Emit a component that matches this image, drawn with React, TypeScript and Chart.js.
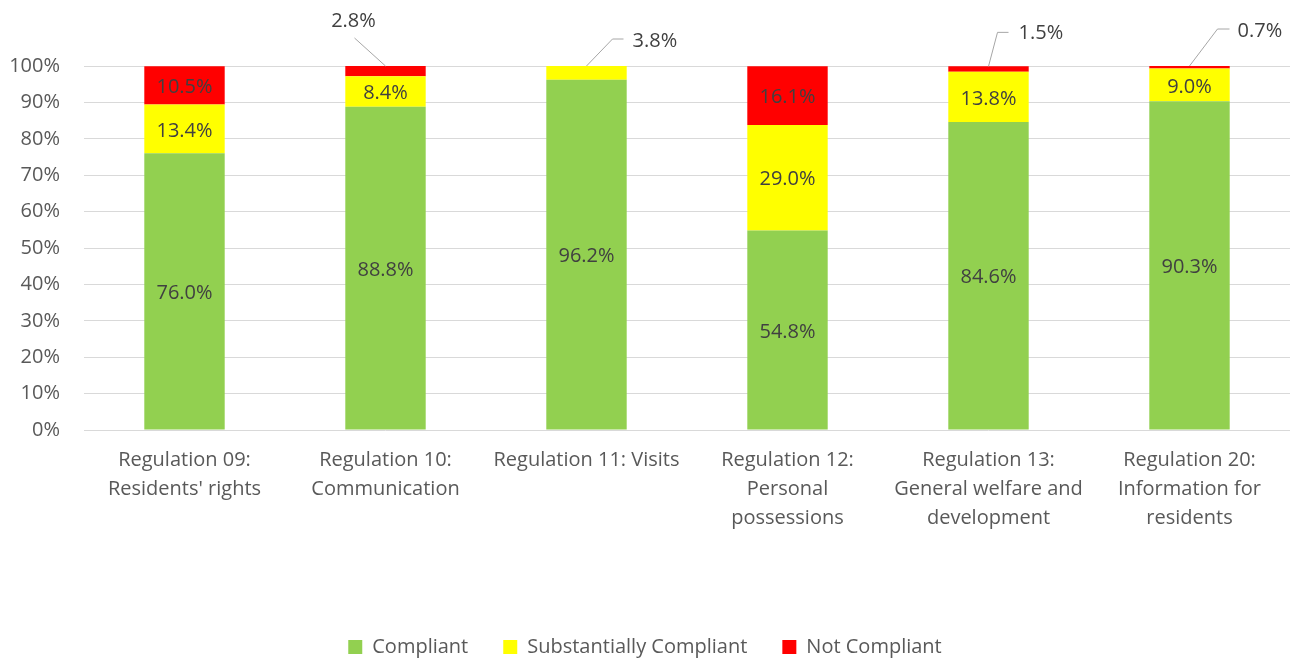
import React, { useEffect, useRef } from "react";
import { Chart, registerables } from "chart.js";

Chart.register(...registerables);

// ---- Data ----
const categories: string[][] = [
  ["Regulation 09:", "Residents' rights"],
  ["Regulation 10:", "Communication"],
  ["Regulation 11: Visits"],
  ["Regulation 12:", "Personal", "possessions"],
  ["Regulation 13:", "General welfare and", "development"],
  ["Regulation 20:", "Information for", "residents"],
];
const compliant = [76.0, 88.8, 96.2, 54.8, 84.6, 90.3];
const substantiallyCompliant = [13.4, 8.4, 3.8, 29.0, 13.8, 9.0];
const notCompliant = [10.5, 2.8, 0, 16.1, 1.5, 0.7];
const seriesNames = ["Compliant", "Substantially Compliant", "Not Compliant"];
const yMin = 0;
const yMax = 100;
const yStep = 10;

// ---- Style ----
const FONT = "'Open Sans'";
const COLORS = ["#92D050", "#FFFF00", "#FF0000"];
const AXIS_TEXT = "#595959";
const LABEL_TEXT = "#404040";

// callout leader-line placement for small segments (offsets from segment top centre)
type Callout = { elbow: [number, number]; end?: [number, number]; label: [number, number]; align: CanvasTextAlign };
const CALLOUTS: Record<string, Callout> = {
  "2-1": { elbow: [-31, -28], label: [-32, -45], align: "center" },
  "1-2": { elbow: [26, -27], end: [37, -27], label: [46, -25], align: "left" },
  "2-4": { elbow: [9, -34], end: [20, -34], label: [30, -33], align: "left" },
  "2-5": { elbow: [28, -37], end: [40, -37], label: [48, -35], align: "left" },
};

const valueLabels = {
  id: "valueLabels",
  afterDatasetsDraw(chart: any) {
    const ctx = chart.ctx as CanvasRenderingContext2D;
    ctx.save();
    ctx.font = `20px ${FONT}`;
    ctx.fillStyle = LABEL_TEXT;
    ctx.textBaseline = "middle";
    chart.data.datasets.forEach((ds: any, di: number) => {
      const meta = chart.getDatasetMeta(di);
      meta.data.forEach((bar: any, i: number) => {
        const v = ds.data[i];
        if (!v) return;
        const text = v.toFixed(1) + "%";
        const co = CALLOUTS[`${di}-${i}`];
        if (!co) {
          ctx.textAlign = "center";
          ctx.fillText(text, bar.x, (bar.y + bar.base) / 2 + 2);
          return;
        }
        const x0 = bar.x;
        const y0 = bar.y;
        ctx.strokeStyle = "#A6A6A6";
        ctx.lineWidth = 1;
        ctx.beginPath();
        ctx.moveTo(x0, y0);
        ctx.lineTo(x0 + co.elbow[0], y0 + co.elbow[1]);
        if (co.end) ctx.lineTo(x0 + co.end[0], y0 + co.end[1]);
        ctx.stroke();
        ctx.textAlign = co.align;
        ctx.fillText(text, x0 + co.label[0], y0 + co.label[1]);
      });
    });
    ctx.restore();
  },
};

export default function App() {
  const ref = useRef<HTMLCanvasElement | null>(null);

  useEffect(() => {
    if (!ref.current) return;
    const series = [compliant, substantiallyCompliant, notCompliant];
    const chart = new Chart(ref.current, {
      type: "bar",
      data: {
        labels: categories,
        datasets: series.map((d, i) => ({
          label: seriesNames[i],
          data: d,
          backgroundColor: COLORS[i],
          borderWidth: 0,
          barPercentage: 0.4,
          categoryPercentage: 1,
        })),
      },
      options: {
        animation: false,
        responsive: true,
        maintainAspectRatio: false,
        layout: { padding: { left: 0, right: 10, top: 66, bottom: -5 } },
        plugins: {
          tooltip: { enabled: false },
          legend: {
            position: "bottom",
            labels: {
              boxWidth: 14,
              boxHeight: 14,
              padding: 35,
              color: AXIS_TEXT,
              font: { family: FONT, size: 20 },
            },
          },
        },
        scales: {
          x: {
            stacked: true,
            grid: { display: false },
            border: { display: false },
            ticks: {
              color: AXIS_TEXT,
              font: { family: FONT, size: 20, lineHeight: 1.45 },
              padding: 8,
              maxRotation: 0,
              autoSkip: false,
            },
            afterFit: (scale: any) => {
              scale.height = 172;
            },
          },
          y: {
            stacked: true,
            min: yMin,
            max: yMax,
            grid: { color: "#D9D9D9", lineWidth: 1, drawTicks: false },
            border: { display: false },
            ticks: {
              stepSize: yStep,
              padding: 24,
              color: AXIS_TEXT,
              font: { family: FONT, size: 20 },
              callback: (v: any) => `${v}%`,
            },
            afterFit: (scale: any) => {
              scale.width = 84;
            },
          },
        },
      },
      plugins: [valueLabels],
    });
    return () => chart.destroy();
  }, []);

  return (
    <div style={{ position: "absolute", left: 0, top: 0, width: 1300, height: 662, background: "#fff" }}>
      <canvas ref={ref} />
    </div>
  );
}
